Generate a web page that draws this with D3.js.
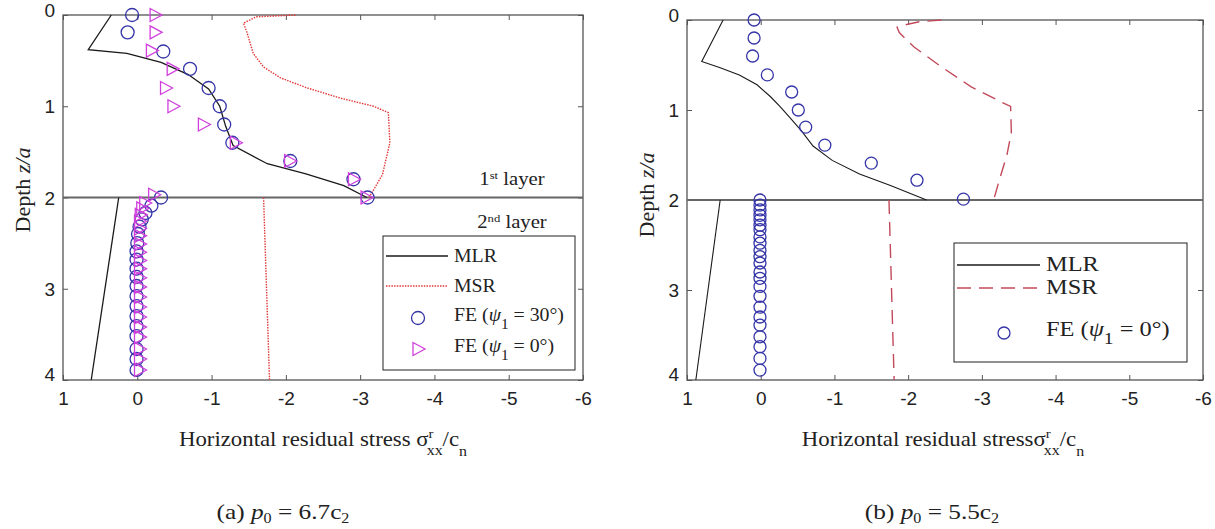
<!DOCTYPE html>
<html>
<head>
<meta charset="utf-8">
<script src="https://cdn.jsdelivr.net/npm/d3@7"></script>
<style>
body { margin: 0; background: #fff; }
</style>
</head>
<body>
<svg id="chart" width="1215" height="529"></svg>
<script>
// axis ticks
const xTicks = [1, 0, -1, -2, -3, -4, -5, -6];
const yTicks = [0, 1, 2, 3, 4];

// (a) p0 = 6.7c2  -- points are [stress, depth]
const mlrA1 = [[0.35, 0], [0.66, 0.38], [0.14, 0.42], [-0.32, 0.52], [-0.68, 0.65], [-0.96, 0.81], [-1.11, 1.0],
  [-1.19, 1.22], [-1.29, 1.43], [-1.75, 1.63], [-2.27, 1.74], [-2.78, 1.87], [-3.09, 2.0]];
const mlrA2 = [[0.25, 2.0], [0.62, 4.0]];
const msrA1 = [[-2.13, 0], [-1.6, 0.02], [-1.43, 0.09], [-1.48, 0.2], [-1.56, 0.42], [-1.70, 0.57], [-1.93, 0.69],
  [-2.29, 0.80], [-2.73, 0.91], [-3.18, 1.0], [-3.38, 1.07], [-3.40, 1.4], [-3.30, 1.75], [-3.12, 2.0]];
const msrA2 = [[-1.70, 2.0], [-1.78, 4.0]];
const fe30A = [[0.07, 0], [0.13, 0.19], [-0.35, 0.40], [-0.71, 0.59], [-0.96, 0.80], [-1.11, 1.0], [-1.17, 1.20],
  [-1.28, 1.40], [-2.06, 1.60], [-2.91, 1.80], [-3.10, 2.0],
  [-0.32, 2.0], [-0.19, 2.09], [-0.11, 2.17], [-0.06, 2.24], [-0.03, 2.32], [-0.01, 2.40], [0, 2.50], [0.01, 2.59],
  [0.01, 2.68], [0.01, 2.78], [0.01, 2.87], [0.01, 2.97], [0.01, 3.08], [0.01, 3.19], [0.01, 3.30], [0.01, 3.41],
  [0.01, 3.52], [0.01, 3.66], [0.01, 3.77], [0.01, 3.89]];
const fe0A = [[-0.24, 0], [-0.24, 0.19], [-0.19, 0.39], [-0.47, 0.59], [-0.38, 0.80], [-0.48, 1.0], [-0.89, 1.20],
  [-1.32, 1.40], [-2.05, 1.60], [-2.91, 1.80], [-3.08, 2.0],
  [-0.22, 1.97], [-0.10, 2.06], [-0.06, 2.12], [-0.04, 2.19], [-0.03, 2.26], [-0.03, 2.34], [-0.03, 2.42],
  [-0.03, 2.51], [-0.03, 2.60], [-0.03, 2.69], [-0.03, 2.78], [-0.03, 2.88], [-0.03, 2.98], [-0.03, 3.09],
  [-0.03, 3.20], [-0.03, 3.31], [-0.03, 3.42], [-0.03, 3.53], [-0.03, 3.66], [-0.03, 3.77], [-0.03, 3.89]];

// (b) p0 = 5.5c2
const mlrB1 = [[0.51, 0], [0.80, 0.46], [0.55, 0.53], [0.29, 0.61], [0.05, 0.72], [-0.13, 0.85], [-0.26, 0.96],
  [-0.39, 1.08], [-0.55, 1.23], [-0.71, 1.40], [-0.97, 1.56], [-1.34, 1.71], [-1.76, 1.84], [-2.25, 2.0]];
const mlrB2 = [[0.55, 2.0], [0.88, 4.0]];
const msrB1 = [[-2.45, 0], [-2.15, 0.02], [-1.98, 0.05], [-1.85, 0.08], [-1.88, 0.14], [-2.08, 0.3], [-2.45, 0.52],
  [-2.85, 0.74], [-3.26, 0.91], [-3.39, 0.96], [-3.40, 1.25], [-3.34, 1.5], [-3.24, 1.77], [-3.16, 2.0]];
const msrB2 = [[-1.74, 2.0], [-1.81, 4.0]];
const fe0B = [[0.09, 0], [0.09, 0.2], [0.11, 0.4], [-0.09, 0.61], [-0.42, 0.80], [-0.51, 1.0], [-0.61, 1.19],
  [-0.87, 1.39], [-1.5, 1.59], [-2.12, 1.78], [-2.75, 1.99],
  [0.01, 2.0], [0.01, 2.056], [0.01, 2.11], [0.01, 2.17], [0.01, 2.22], [0.01, 2.28], [0.01, 2.33], [0.01, 2.41],
  [0.01, 2.48], [0.01, 2.56], [0.01, 2.63], [0.01, 2.70], [0.01, 2.80], [0.01, 2.87], [0.01, 2.96], [0.01, 3.07],
  [0.01, 3.19], [0.01, 3.30], [0.01, 3.39], [0.01, 3.52], [0.01, 3.63], [0.01, 3.76], [0.01, 3.89]];

const svg = d3.select("#chart");
const serif = "'Liberation Serif', 'Times New Roman', serif";
const sans = "'Liberation Sans', Arial, sans-serif";

const triPath = "M-5,-6.5L-5,6.5L7,0Z";

// serif text that is a bit wider than normal, like the scanned figure
const stretchText = (parent, x, y, size, sx, anchor, rot) => {
  const tr = `translate(${x},${y})` + (rot ? ` rotate(${rot})` : "") + ` scale(${sx},1)`;
  return parent.append("g").attr("transform", tr)
    .append("text")
    .attr("text-anchor", anchor)
    .attr("font-family", serif).attr("font-size", size).attr("fill", "#222");
};

const drawPanel = p => {
  const x = d3.scaleLinear().domain([1, -6]).range([p.x0, p.x1]);
  const y = d3.scaleLinear().domain([0, 4]).range([p.y0, p.y1]);
  const g = svg.append("g");
  const line = d3.line().x(d => x(d[0])).y(d => y(d[1]));

  // axes, ticks pointing in (all four sides)
  const ax = (gen, tr, labels) => {
    const a = g.append("g").attr("transform", tr).call(gen);
    a.select(".domain").remove();
    a.selectAll(".tick line").attr("stroke", "#555");
    a.selectAll("text").attr("font-family", sans).attr("font-size", 19).attr("fill", "#222");
    if (!labels) a.selectAll("text").remove();
    return a;
  };
  ax(d3.axisBottom(x).tickValues(xTicks).tickSizeInner(-5).tickSizeOuter(0).tickPadding(12).tickFormat(d => String(d)),
    `translate(0,${p.y1})`, true);
  ax(d3.axisTop(x).tickValues(xTicks).tickSizeInner(-5).tickSizeOuter(0), `translate(0,${p.y0})`, false);
  const yl = ax(d3.axisLeft(y).tickValues(yTicks).tickSizeInner(-5).tickSizeOuter(0).tickPadding(8).tickFormat(d => String(d)),
    `translate(${p.x0},0)`, true);
  yl.selectAll("text").attr("dy", (d, i) => i === 0 ? "0.1em" : (i === 4 ? "0.05em" : "0.35em"));
  ax(d3.axisRight(y).tickValues(yTicks).tickSizeInner(-5).tickSizeOuter(0), `translate(${p.x1},0)`, false);

  g.append("rect")
    .attr("x", p.x0).attr("y", p.y0)
    .attr("width", p.x1 - p.x0).attr("height", p.y1 - p.y0)
    .attr("fill", "none").attr("stroke", "#555").attr("stroke-width", 1.3);

  // layer interface
  g.append("line")
    .attr("x1", p.x0).attr("x2", p.x1).attr("y1", y(2)).attr("y2", y(2))
    .attr("stroke", "#666").attr("stroke-width", 1.8);

  p.lines.forEach(l => {
    l.data.forEach(seg => {
      g.append("path").datum(seg)
        .attr("d", line)
        .attr("fill", "none")
        .attr("stroke", l.color)
        .attr("stroke-width", l.width)
        .attr("stroke-dasharray", l.dash || null);
    });
  });

  p.markers.forEach(m => {
    if (m.shape === "circle") {
      g.selectAll(null).data(m.data).join("circle")
        .attr("cx", d => x(d[0])).attr("cy", d => y(d[1])).attr("r", m.r)
        .attr("fill", "none").attr("stroke", m.color).attr("stroke-width", 1.3);
    } else {
      g.selectAll(null).data(m.data).join("path")
        .attr("d", triPath)
        .attr("transform", d => `translate(${x(d[0])},${y(d[1])})`)
        .attr("fill", "none").attr("stroke", m.color).attr("stroke-width", 1.3);
    }
  });

  // y label
  const yt = stretchText(g, p.yLabelX, p.yLabelY, 20, 1.1, "middle", -90);
  yt.append("tspan").text("Depth ");
  yt.append("tspan").attr("font-style", "italic").text("z/a");

  // x label
  const xt = stretchText(g, p.xLabelX, 446, 20, 1.14, "middle");
  xt.append("tspan").text(p.xLabelText);
  xt.append("tspan").attr("dy", -8).attr("font-size", 13).text("r");
  xt.append("tspan").attr("dx", -6).attr("dy", 17).attr("font-size", 14).text("xx");
  xt.append("tspan").attr("dy", -9).text("/c");
  xt.append("tspan").attr("dy", 10).attr("font-size", 14).text("n");

  // caption
  const ct = stretchText(g, p.capX, 519, 22, 1.15, "middle");
  ct.append("tspan").text(p.capLetter + " ");
  ct.append("tspan").attr("font-style", "italic").text("p");
  ct.append("tspan").attr("dy", 4).attr("font-size", 14).text("0");
  ct.append("tspan").attr("dy", -4).text(" = " + p.capValue + "c");
  ct.append("tspan").attr("dy", 4).attr("font-size", 14).text("2");

  // legend
  const L = p.legend;
  const lg = g.append("g");
  lg.append("rect")
    .attr("x", L.x).attr("y", L.y).attr("width", L.w).attr("height", L.h)
    .attr("fill", "#fff").attr("stroke", "#222").attr("stroke-width", 1);
  L.items.forEach((it, i) => {
    const cy = L.y + L.rows[i];
    if (it.type === "line") {
      lg.append("line")
        .attr("x1", L.x + 3).attr("x2", L.x + L.lineW).attr("y1", cy).attr("y2", cy)
        .attr("stroke", it.color).attr("stroke-width", it.width)
        .attr("stroke-dasharray", it.dash || null);
    } else if (it.type === "circle") {
      lg.append("circle").attr("cx", L.x + L.markX).attr("cy", cy + 3).attr("r", it.r)
        .attr("fill", "none").attr("stroke", it.color).attr("stroke-width", 1.3);
    } else {
      lg.append("path").attr("d", triPath)
        .attr("transform", `translate(${L.x + L.markX},${cy + 3})`)
        .attr("fill", "none").attr("stroke", it.color).attr("stroke-width", 1.3);
    }
    const t = stretchText(lg, L.x + L.lineW + 6, cy, L.font, L.sx, "start").attr("dy", "0.32em");
    if (it.psi === undefined) {
      t.text(it.label);
    } else {
      t.append("tspan").text("FE (");
      t.append("tspan").attr("font-style", "italic").text("ψ");
      t.append("tspan").attr("dy", 8).attr("font-size", L.font - 4).text("1");
      t.append("tspan").attr("dy", -8).text(" = " + it.psi + "°)");
    }
  });

  if (p.layerText) {
    const t1 = stretchText(g, 512, 185, 18, 1.15, "middle");
    t1.append("tspan").text("1");
    t1.append("tspan").attr("dy", -6).attr("font-size", 11).text("st");
    t1.append("tspan").attr("dy", 6).text(" layer");
    const t2 = stretchText(g, 512, 228, 18, 1.15, "middle");
    t2.append("tspan").text("2");
    t2.append("tspan").attr("dy", -6).attr("font-size", 11).text("nd");
    t2.append("tspan").attr("dy", 6).text(" layer");
  }
};

const black = "#1a1a1a";
const blue = "#3535a8";
const magenta = "#d040dc";

drawPanel({
  x0: 63, x1: 583, y0: 15, y1: 380,
  yLabelX: 30, yLabelY: 190,
  xLabelX: 323, xLabelText: "Horizontal residual stress σ",
  capX: 283, capLetter: "(a)", capValue: "6.7",
  layerText: true,
  lines: [
    { data: [mlrA1, mlrA2], color: black, width: 1.3 },
    { data: [msrA1, msrA2], color: "#e23a3a", width: 1.4, dash: "1.5,1.2" }
  ],
  markers: [
    { data: fe30A, shape: "circle", r: 6.5, color: blue },
    { data: fe0A, shape: "tri", color: magenta }
  ],
  legend: {
    x: 383, y: 236, w: 192, h: 134, rows: [20, 50, 79, 110], lineW: 65, markX: 35,
    font: 18, sx: 1.1,
    items: [
      { type: "line", label: "MLR", color: black, width: 1.5 },
      { type: "line", label: "MSR", color: "#e23a3a", width: 1.4, dash: "1.5,1.2" },
      { type: "circle", psi: "30", color: blue, r: 6.5 },
      { type: "tri", psi: "0", color: magenta }
    ]
  }
});

drawPanel({
  x0: 687, x1: 1203, y0: 20, y1: 380,
  yLabelX: 654, yLabelY: 195,
  xLabelX: 943, xLabelText: "Horizontal residual stressσ",
  capX: 932, capLetter: "(b)", capValue: "5.5",
  layerText: false,
  lines: [
    { data: [mlrB1, mlrB2], color: black, width: 1.1 },
    { data: [msrB1, msrB2], color: "#c24a5a", width: 1.4, dash: "14,8" }
  ],
  markers: [
    { data: fe0B, shape: "circle", r: 6, color: blue }
  ],
  legend: {
    x: 954, y: 243, w: 233, h: 119, rows: [22, 45, 87], lineW: 86, markX: 50,
    font: 20, sx: 1.22,
    items: [
      { type: "line", label: "MLR", color: black, width: 1.3 },
      { type: "line", label: "MSR", color: "#c24a5a", width: 1.4, dash: "14,8" },
      { type: "circle", psi: "0", color: blue, r: 6 }
    ]
  }
});
</script>
</body>
</html>
